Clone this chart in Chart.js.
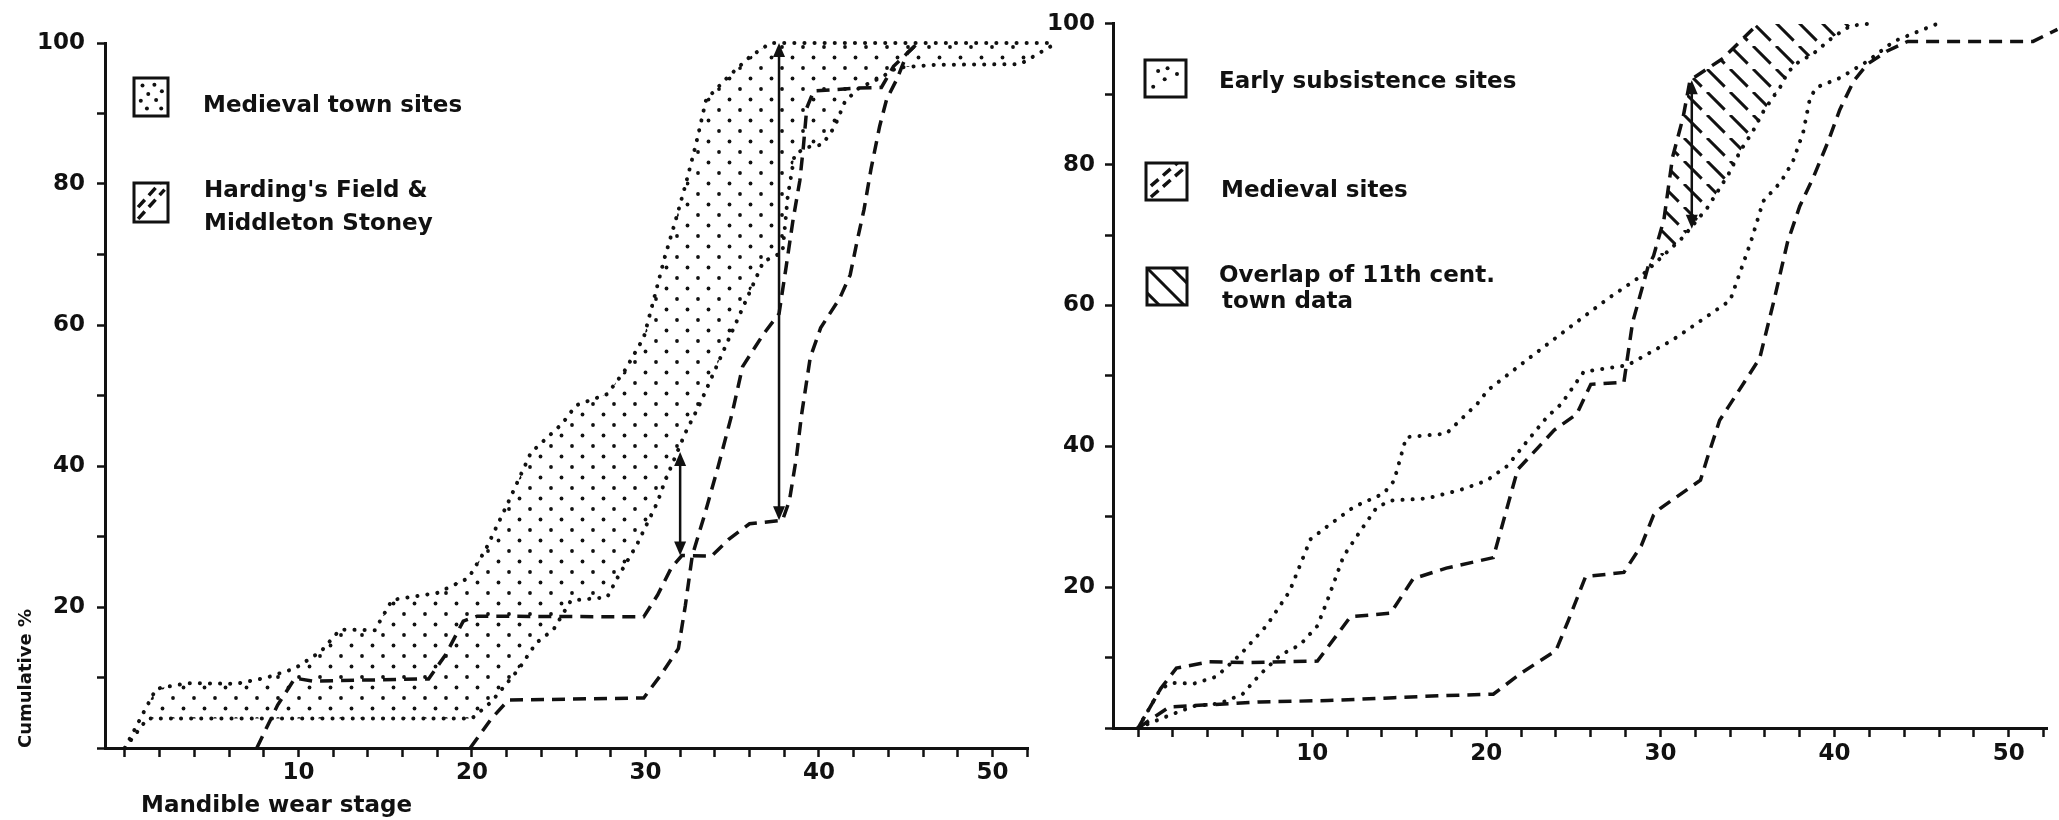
<!DOCTYPE html>
<html>
<head>
<meta charset="utf-8">
<title>Cumulative mandible wear stage</title>
<script src="https://cdn.jsdelivr.net/npm/chart.js@4.4.1/dist/chart.umd.min.js"></script>
<style>
  html, body { margin: 0; padding: 0; background: #ffffff; }
  #stage { position: relative; width: 2059px; height: 820px; overflow: hidden; background: #ffffff; }
  .panel { position: absolute; top: 0; }
</style>
</head>
<body>
<div id="stage">
  <div class="panel" style="left:0;width:1060px;height:820px"><canvas id="leftChart" width="1060" height="820"></canvas></div>
  <div class="panel" style="left:1040px;width:1019px;height:820px"><canvas id="rightChart" width="1019" height="820"></canvas></div>
</div>
<script>
// ---------------- tick values / labels ----------------
const xTicks = [0,2,4,6,8,10,12,14,16,18,20,22,24,26,28,30,32,34,36,38,40,42,44,46,48,50,52];
const xTickLabels = [10,20,30,40,50];
const yTicks = [0,10,20,30,40,50,60,70,80,90,100];
const yTickLabels = [20,40,60,80,100];

// ---------------- left panel: Medieval town sites (band) ----------------
const townUpperX = [0,1,1.8,3.6,6.4,8.2,9.8,11.3,12.4,14.4,15.4,18,19.8,20.8,22.1,23.4,25.2,26,27.8,28.8,29.9,30.5,31.1,31.7,32.3,32.9,33.5,34.8,36,37.2,53.7];
const townUpperY = [0,4.7,8.4,9.2,9.1,10,11.3,13.7,16.8,16.7,21,22,24.1,28.2,34.9,41.9,46,48.6,50.2,53.5,58.2,63.8,69.5,74.5,79.8,85.5,92,95.3,98,100,100];
const townLowerX = [0,1.3,10,20,21.1,22.7,23.7,24.7,25.7,27.8,28.4,29.5,30.7,31.1,32.3,33.1,34.8,35.8,36.8,37.9,38.2,38.6,39.3,40.2,40.9,41.5,42.3,43.5,44.5,46.7,51.6,53.7];
const townLowerY = [0,4.2,4.2,4.2,6.5,11.2,14.9,16.8,20.9,21.4,24.2,28.8,34.9,37.7,44.7,48.6,58,63.5,69,70.3,78.2,84.2,85.2,85.6,88.1,91.7,93.6,95,96.5,96.9,97,100];
// Harding's Field & Middleton Stoney (two dashed curves)
const hardAX = [7.6,8.8,9.8,10.8,17.5,18.5,19.5,20.3,29.9,30.7,31.5,32.1,33.8,34.8,36,37.9,38.3,38.7,39,39.5,40.1,41.2,41.8,42.2,42.6,43,43.5,43.9,44.5,45.1,45.7];
const hardAY = [0,6.1,9.9,9.5,9.8,13.3,18,18.7,18.6,21.7,25.6,27.3,27.2,29.6,31.8,32.3,35.1,41.2,47.3,55.4,59.6,63.8,67.1,71.9,76.4,82.1,88.2,92,94.9,98.6,100];
const hardBX = [19.9,21.1,22.1,29.9,30.9,31.9,32.3,32.7,33.4,34.2,35,35.6,36.8,37.7,38.1,38.5,38.9,39.1,39.3,39.7,42.2,43.6,44.3,45.7];
const hardBY = [0,4.1,6.8,7.1,10.4,14.1,20.2,27.3,33,40,47.5,54.1,58.7,61.6,68.1,74.8,80.5,85.2,90.8,93.2,93.6,93.7,96.7,100];
// double-headed arrows (left)
const arrowLX = [32, 37.7];
const arrowLBottom = [27.3, 32.3];
const arrowLTop = [42, 100];

// ---------------- right panel ----------------
const earlyAX = [0,1.3,2,3.2,4.5,5.9,7.4,8.7,9.9,10.9,12.4,14.1,14.7,15.4,17.7,19.5,20.1,22.5,25,27,28.9,31.3,32.7,33.9,34.6,35.3,35.9,36.5,36.9,37.3,37.9,38.8,39.9,40.9,41.9];
const earlyAY = [0,5.6,6.4,6.3,7.3,10.5,14.6,19.4,26.8,28.7,31.4,33.3,35.1,41.3,41.8,46.1,48,52.6,57.3,61,64.2,69.7,73.9,78.6,82,84.7,87.5,89.7,91.1,93.1,94.5,95.8,98.1,99.7,100];
const earlyBX = [0,1.8,3.2,4.7,6,7,8.2,9.3,10.3,10.9,11.8,12.8,13.7,14.5,16.6,18.5,20,21.2,22.4,23.5,24.3,25.6,28.1,30.7,34,35.2,35.9,36.9,37.6,38.2,38.6,39,40.3,41.9,43.4,45.1,45.9];
const earlyBY = [0,1.8,3.1,3.5,4.8,7.6,10.4,11.8,14.5,18.3,24.4,28.1,31.3,32.3,32.6,33.8,35.1,37.2,40.9,44.2,46,50.6,51.5,55.1,60.7,69.1,74.8,77.5,80.4,84.6,89.6,91,92.3,94.7,97.5,99.2,100];
const medAX = [0,1.3,2.2,4.1,6.3,10.3,12.2,14.5,15.8,17.7,20.4,21.8,23.9,25.2,26,27.9,28.4,29.3,29.6,30.2,30.7,31.3,31.7,33.6,35.6];
const medAY = [0,5.6,8.5,9.4,9.3,9.5,15.8,16.3,21.2,22.7,24.2,36.7,42.3,44.6,48.8,49.1,57.6,65.6,67,72.2,81.1,86.7,92,95.1,100];
const medBX = [0,1.8,4.1,7,10.9,14.7,17.5,20.4,22,24,24.7,25.7,27.9,28.9,29.6,30,32.3,32.7,33.4,33.9,35.7,36.5,37.3,38,38.8,39.6,40.3,41.1,41.9,43,44.2,51.4,52.8];
const medBY = [0,3,3.3,3.7,3.9,4.3,4.6,4.8,7.8,11,15.2,21.5,22.1,25.9,30.2,31.2,35.2,38.4,43.7,45.6,52.5,60.5,69,74.1,78.3,83.1,87.8,91.9,94.3,96.1,97.5,97.5,99.2];
// upper edge of the hatched "overlap of 11th cent. town data" zone
const overlapTopX = [29.3,29.6,30.2,30.7,31.3,31.7,33.6,35.6,41.9];
const overlapTopY = [65.6,67,72.2,81.1,86.7,92,95.1,100,100];
// double-headed arrow (right)
const arrowRX = [31.8];
const arrowRBottom = [70.9];
const arrowRTop = [92];

// ---------------- styling helpers ----------------
const FONT = '"DejaVu Sans", "Liberation Sans", Arial, sans-serif';
const INK = '#111111';
const DOTTED = { borderWidth: 4, borderDash: [0.1, 10], borderCapStyle: 'round' };
const DASHED = { borderWidth: 3.5, borderDash: [13, 8], borderCapStyle: 'butt' };

function makeStipple() {
  const c = document.createElement('canvas'); c.width = 21; c.height = 21;
  const g = c.getContext('2d'); g.fillStyle = INK;
  [[5, 5], [15.5, 15.5]].forEach(([x, y]) => { g.beginPath(); g.arc(x, y, 1.9, 0, Math.PI * 2); g.fill(); });
  return g.createPattern(c, 'repeat');
}
function makeHatch() {
  const s = 23; const c = document.createElement('canvas'); c.width = s; c.height = s;
  const g = c.getContext('2d'); g.strokeStyle = INK; g.lineWidth = 3; g.setLineDash([25, 7.5]);
  for (let k = -1; k <= 1; k++) { g.beginPath(); g.moveTo(k * s, 0); g.lineTo(k * s + s, s); g.stroke(); }
  return g.createPattern(c, 'repeat');
}
const stipple = makeStipple();
const hatch = makeHatch();

function series(xs, ys, style, extra) {
  return Object.assign({
    data: xs.map((x, i) => ({ x: x, y: ys[i] })),
    borderColor: INK, backgroundColor: 'rgba(0,0,0,0)', pointRadius: 0, pointHoverRadius: 0,
    tension: 0, fill: false, clip: false
  }, style, extra || {});
}

function xScale(min, max, height, pad) {
  return {
    type: 'linear', min: min, max: max, offset: false,
    afterBuildTicks: s => { s.ticks = xTicks.map(v => ({ value: v })); },
    afterFit: s => { s.height = height; },
    ticks: {
      autoSkip: false, maxRotation: 0, minRotation: 0, padding: pad, color: INK,
      font: { family: FONT, size: 23, weight: 'bold' },
      callback: v => xTickLabels.includes(v) ? String(v) : ''
    },
    grid: { display: true, drawOnChartArea: false, drawTicks: true, tickLength: 9, tickWidth: 2.5, tickColor: INK },
    border: { display: true, color: INK, width: 3 }
  };
}
function yScale(width, pad, title) {
  const sc = {
    type: 'linear', min: 0, max: 100,
    afterBuildTicks: s => { s.ticks = yTicks.map(v => ({ value: v })); },
    afterFit: s => { s.width = width; },
    ticks: {
      autoSkip: false, padding: pad, color: INK,
      font: { family: FONT, size: 23, weight: 'bold' },
      callback: v => yTickLabels.includes(v) ? String(v) : ''
    },
    grid: { display: true, drawOnChartArea: false, drawTicks: true, tickLength: 8, tickWidth: 2.5, tickColor: INK },
    border: { display: true, color: INK, width: 3 }
  };
  if (title) {
    sc.title = { display: true, text: title, align: 'start', color: INK,
      font: { family: FONT, size: 18, weight: 'bold' }, padding: { top: 16, bottom: 0 } };
  }
  return sc;
}

function swatch(ctx, type, b) {
  const x = b[0], y = b[1], w = b[2], h = b[3];
  ctx.save();
  ctx.fillStyle = INK; ctx.strokeStyle = INK;
  ctx.save();
  ctx.beginPath(); ctx.rect(x, y, w, h); ctx.clip();
  if (type === 'stipple' || type === 'dots') {
    const pts = type === 'stipple'
      ? [[0.25,0.2],[0.6,0.18],[0.82,0.35],[0.42,0.42],[0.2,0.6],[0.65,0.58],[0.38,0.8],[0.8,0.8]]
      : [[0.32,0.3],[0.55,0.22],[0.78,0.38],[0.48,0.52],[0.2,0.72]];
    pts.forEach(p => { ctx.beginPath(); ctx.arc(x + p[0] * w, y + p[1] * h, 2, 0, Math.PI * 2); ctx.fill(); });
  } else if (type === 'dash') {
    ctx.lineWidth = 3.5; ctx.setLineDash([10, 6]);
    [[0.62, 0.22], [0.92, 0.52]].forEach(r => {
      ctx.beginPath(); ctx.moveTo(x + 0.12 * w, y + r[0] * h); ctx.lineTo(x + 0.9 * w, y + r[1] * h - 0.35 * h); ctx.stroke();
    });
  } else if (type === 'hatch') {
    ctx.lineWidth = 3;
    [-0.62, 0, 0.62].forEach(c => {
      ctx.beginPath(); ctx.moveTo(x + c * w, y); ctx.lineTo(x + c * w + h, y + h); ctx.stroke();
    });
  }
  ctx.restore();
  ctx.lineWidth = 3; ctx.setLineDash([]);
  ctx.strokeRect(x, y, w, h);
  ctx.restore();
}

function drawArrow(ctx, px, pBottom, pTop) {
  const hl = 14, hw = 6;
  ctx.save();
  ctx.strokeStyle = INK; ctx.fillStyle = INK; ctx.lineWidth = 2.5;
  ctx.beginPath(); ctx.moveTo(px, pBottom - hl + 2); ctx.lineTo(px, pTop + hl - 2); ctx.stroke();
  ctx.beginPath(); ctx.moveTo(px, pTop); ctx.lineTo(px - hw, pTop + hl); ctx.lineTo(px + hw, pTop + hl); ctx.closePath(); ctx.fill();
  ctx.beginPath(); ctx.moveTo(px, pBottom); ctx.lineTo(px - hw, pBottom - hl); ctx.lineTo(px + hw, pBottom - hl); ctx.closePath(); ctx.fill();
  ctx.restore();
}

function overlay(cfg) {
  return {
    id: 'overlay',
    afterDatasetsDraw(chart) {
      const ctx = chart.ctx, xs = chart.scales.x, ys = chart.scales.y;
      cfg.arrowX.forEach((ax, i) => {
        drawArrow(ctx, xs.getPixelForValue(ax), ys.getPixelForValue(cfg.arrowBottom[i]), ys.getPixelForValue(cfg.arrowTop[i]));
      });
      ctx.save();
      ctx.fillStyle = INK; ctx.textBaseline = 'alphabetic'; ctx.textAlign = 'left';
      ctx.font = 'bold 23px ' + FONT;
      cfg.legend.forEach(it => {
        swatch(ctx, it.type, it.box);
        it.lines.forEach((t, j) => ctx.fillText(t, it.tx[j], it.ty[j]));
      });
      if (cfg.xTitle) ctx.fillText(cfg.xTitle.text, cfg.xTitle.x, cfg.xTitle.y);
      ctx.restore();
    }
  };
}

function baseOptions(xs, ys, padTop, padRight) {
  return {
    responsive: false, animation: false, devicePixelRatio: 1, events: [],
    layout: { padding: { top: padTop, right: padRight, left: 0, bottom: 0 } },
    plugins: { legend: { display: false }, tooltip: { enabled: false }, title: { display: false } },
    scales: { x: xs, y: ys }
  };
}

// ---------------- left chart ----------------
new Chart(document.getElementById('leftChart'), {
  type: 'line',
  data: {
    datasets: [
      series(townUpperX, townUpperY, DOTTED, { label: 'Medieval town sites', fill: { target: 1, above: stipple, below: stipple } }),
      series(townLowerX, townLowerY, DOTTED, { label: 'Medieval town sites (lower)' }),
      series(hardAX, hardAY, DASHED, { label: "Harding's Field" }),
      series(hardBX, hardBY, DASHED, { label: 'Middleton Stoney' })
    ]
  },
  options: baseOptions(xScale(-1.15, 52.05, 72, 2), yScale(105, 12, 'Cumulative %'), 43, 32),
  plugins: [overlay({
    arrowX: arrowLX, arrowBottom: arrowLBottom, arrowTop: arrowLTop,
    legend: [
      { type: 'stipple', box: [134, 78, 34, 38], lines: ['Medieval town sites'], tx: [203], ty: [112] },
      { type: 'dash', box: [134, 183, 34, 39], lines: ["Harding's Field &", 'Middleton Stoney'], tx: [204, 204], ty: [197, 230] }
    ],
    xTitle: { text: 'Mandible wear stage', x: 141, y: 812 }
  })]
});

// ---------------- right chart ----------------
new Chart(document.getElementById('rightChart'), {
  type: 'line',
  data: {
    datasets: [
      series(earlyAX, earlyAY, DOTTED, { label: 'Early subsistence sites A' }),
      series(earlyBX, earlyBY, DOTTED, { label: 'Early subsistence sites B' }),
      series(medAX, medAY, DASHED, { label: 'Medieval sites A' }),
      series(medBX, medBY, DASHED, { label: 'Medieval sites B' }),
      series(overlapTopX, overlapTopY, { borderWidth: 0 }, {
        label: 'Overlap of 11th cent. town data', borderColor: 'rgba(0,0,0,0)',
        fill: { target: 0, above: hatch, below: 'rgba(0,0,0,0)' }
      })
    ]
  },
  options: baseOptions(xScale(-1.44, 52.2, 92, 3), yScale(73, 10, null), 22, 12),
  plugins: [overlay({
    arrowX: arrowRX, arrowBottom: arrowRBottom, arrowTop: arrowRTop,
    legend: [
      { type: 'dots', box: [105, 60, 41, 37], lines: ['Early subsistence sites'], tx: [179], ty: [88] },
      { type: 'dash', box: [106, 163, 41, 37], lines: ['Medieval sites'], tx: [181], ty: [197] },
      { type: 'hatch', box: [107, 268, 40, 37], lines: ['Overlap of 11th cent.', 'town data'], tx: [179, 182], ty: [282, 308] }
    ],
    xTitle: null
  })]
});
</script>
</body>
</html>
